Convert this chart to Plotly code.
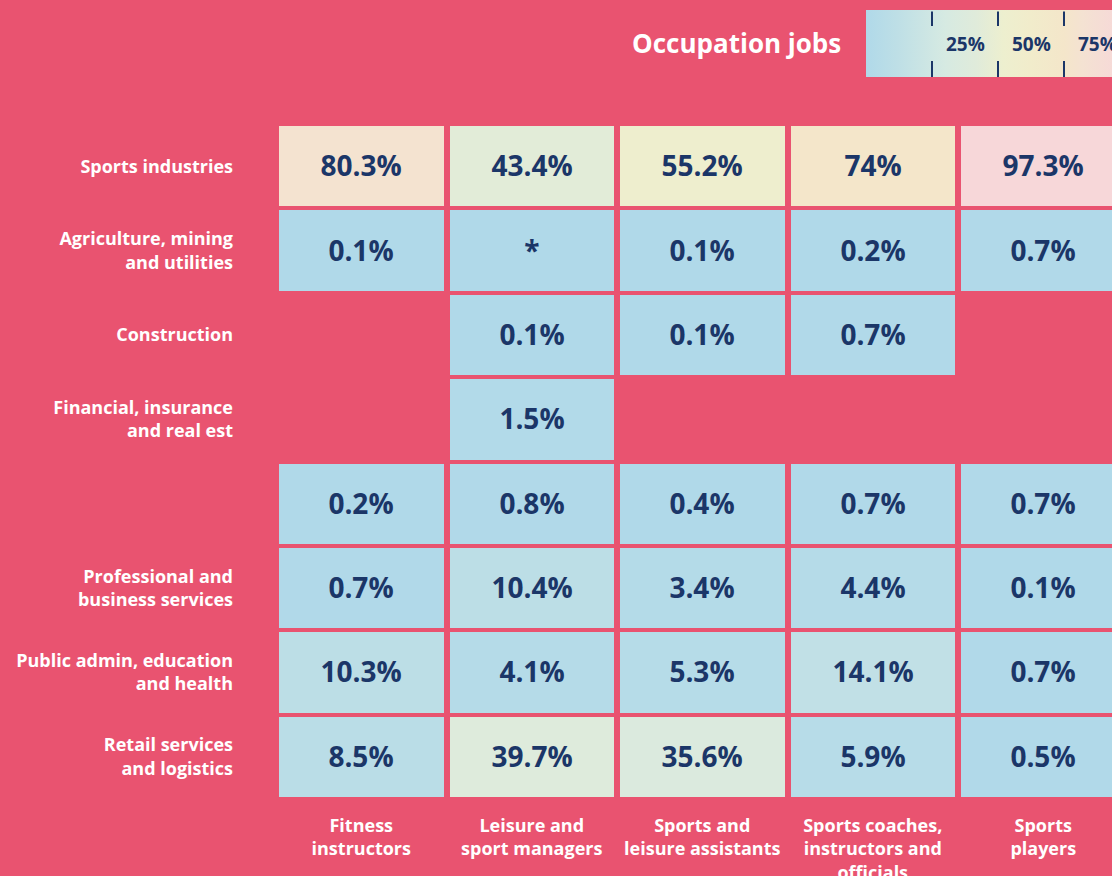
import plotly.graph_objects as go

# ---------------- data ----------------
occupations = [
    "Fitness<br>instructors",
    "Leisure and<br>sport managers",
    "Sports and<br>leisure assistants",
    "Sports coaches,<br>instructors and<br>officials",
    "Sports<br>players",
]
industries = [
    "Sports industries",
    "Agriculture, mining<br>and utilities",
    "Construction",
    "Financial, insurance<br>and real est",
    "",
    "Professional and<br>business services",
    "Public admin, education<br>and health",
    "Retail services<br>and logistics",
]
# share of occupation jobs (%) by industry; None = no data, STAR = suppressed (shown as *)
STAR = 0.01
sports_industries = [80.3, 43.4, 55.2, 74, 97.3]
agriculture = [0.1, STAR, 0.1, 0.2, 0.7]
construction = [None, 0.1, 0.1, 0.7, None]
financial = [None, 1.5, None, None, None]
unlabelled = [0.2, 0.8, 0.4, 0.7, 0.7]
professional = [0.7, 10.4, 3.4, 4.4, 0.1]
public_admin = [10.3, 4.1, 5.3, 14.1, 0.7]
retail = [8.5, 39.7, 35.6, 5.9, 0.5]
legend_ticks = [25, 50, 75]

z = [sports_industries, agriculture, construction, financial,
     unlabelled, professional, public_admin, retail]


def fmt(v):
    if v is None:
        return ""
    if v == STAR:
        return "*"
    return f"{v:g}%"


text = [[fmt(v) for v in row] for row in z]

# ---------------- style ----------------
W, H = 1112, 876
BG = "#E95370"
NAVY = "#1B3668"
FONT = "Open Sans"
colorscale = [
    [0.0, "#B0D9E9"],
    [0.12, "#BEDFE6"],
    [0.3, "#D6EAE2"],
    [0.42, "#E0EBDA"],
    [0.52, "#EDEFCF"],
    [0.62, "#F1ECCB"],
    [0.75, "#F4E6CA"],
    [0.82, "#F4E2D2"],
    [1.0, "#F7D5DA"],
]

ML, MR, MT, MB = 276, 0, 124, 77
plot_w = W - ML - MR
plot_h = H - MT - MB
col_pitch = 170.5
x_right = -0.5 + plot_w / col_pitch

# legend (colorbar) geometry in pixels
cb_x0, cb_top, cb_len, cb_thick = 866, 10, 264, 67
tick_len = 16


def px_to_paper_x(px):
    return (px - ML) / plot_w


def py_to_paper_y(py):
    return (H - MB - py) / plot_h


fig = go.Figure(
    go.Heatmap(
        z=z,
        x=list(range(len(occupations))),
        y=list(range(len(industries))),
        text=text,
        texttemplate="%{text}",
        textfont=dict(family=FONT, size=28, color=NAVY, weight=700),
        colorscale=colorscale,
        zmin=0,
        zmax=100,
        xgap=6,
        ygap=4,
        hoverongaps=False,
        colorbar=dict(
            orientation="h",
            xref="paper",
            yref="paper",
            x=px_to_paper_x(cb_x0),
            xanchor="left",
            y=py_to_paper_y(cb_top),
            yanchor="top",
            lenmode="pixels",
            len=cb_len,
            thickness=cb_thick,
            xpad=0,
            ypad=0,
            outlinewidth=0,
            tickvals=legend_ticks,
            ticks="inside",
            ticklen=tick_len,
            tickwidth=2,
            tickcolor=NAVY,
            showticklabels=False,
        ),
    )
)

annotations = []
for t in legend_ticks:
    px = cb_x0 + cb_len * t / 100
    # top tick mark (drawn as a headless arrow so it sits above the colour bar)
    annotations.append(dict(
        text="", xref="paper", yref="paper",
        x=px_to_paper_x(px), y=py_to_paper_y(cb_top + tick_len),
        ax=0, ay=-tick_len, showarrow=True, arrowhead=0,
        arrowwidth=2, arrowcolor=NAVY, standoff=0, startstandoff=0,
    ))
    mid = cb_x0 + cb_len * (t + 12.5) / 100
    annotations.append(dict(
        text=f"{t}%", xref="paper", yref="paper",
        x=px_to_paper_x(mid), y=py_to_paper_y(cb_top + cb_thick / 2),
        xanchor="center", yanchor="middle", showarrow=False,
        font=dict(family=FONT, size=19, color=NAVY, weight=700),
    ))

annotations.append(dict(
    text="Occupation jobs", xref="paper", yref="paper",
    x=px_to_paper_x(843), y=py_to_paper_y(43),
    xanchor="right", yanchor="middle", showarrow=False,
    font=dict(family=FONT, size=26, color="white", weight=700),
))

fig.update_layout(
    width=W,
    height=H,
    paper_bgcolor=BG,
    plot_bgcolor=BG,
    margin=dict(l=ML, r=MR, t=MT, b=MB, pad=0, autoexpand=False),
    font=dict(family=FONT, color="white"),
    annotations=annotations,
    xaxis=dict(
        range=[-0.5, x_right],
        tickvals=list(range(len(occupations))),
        ticktext=occupations,
        side="bottom",
        showgrid=False,
        zeroline=False,
        showline=False,
        ticks="",
        ticklabelstandoff=14,
        tickfont=dict(family=FONT, size=18, color="white", weight=700),
        fixedrange=True,
    ),
    yaxis=dict(
        range=[len(industries) - 0.5, -0.5],
        tickvals=list(range(len(industries))),
        ticktext=industries,
        showgrid=False,
        zeroline=False,
        showline=False,
        ticks="",
        ticklabelstandoff=42,
        tickfont=dict(family=FONT, size=18, color="white", weight=700),
        fixedrange=True,
    ),
)

fig.write_html(
    "out.html",
    config={"displayModeBar": False},
    post_script="document.body.style.margin='0px';document.body.style.overflow='hidden';",
)
